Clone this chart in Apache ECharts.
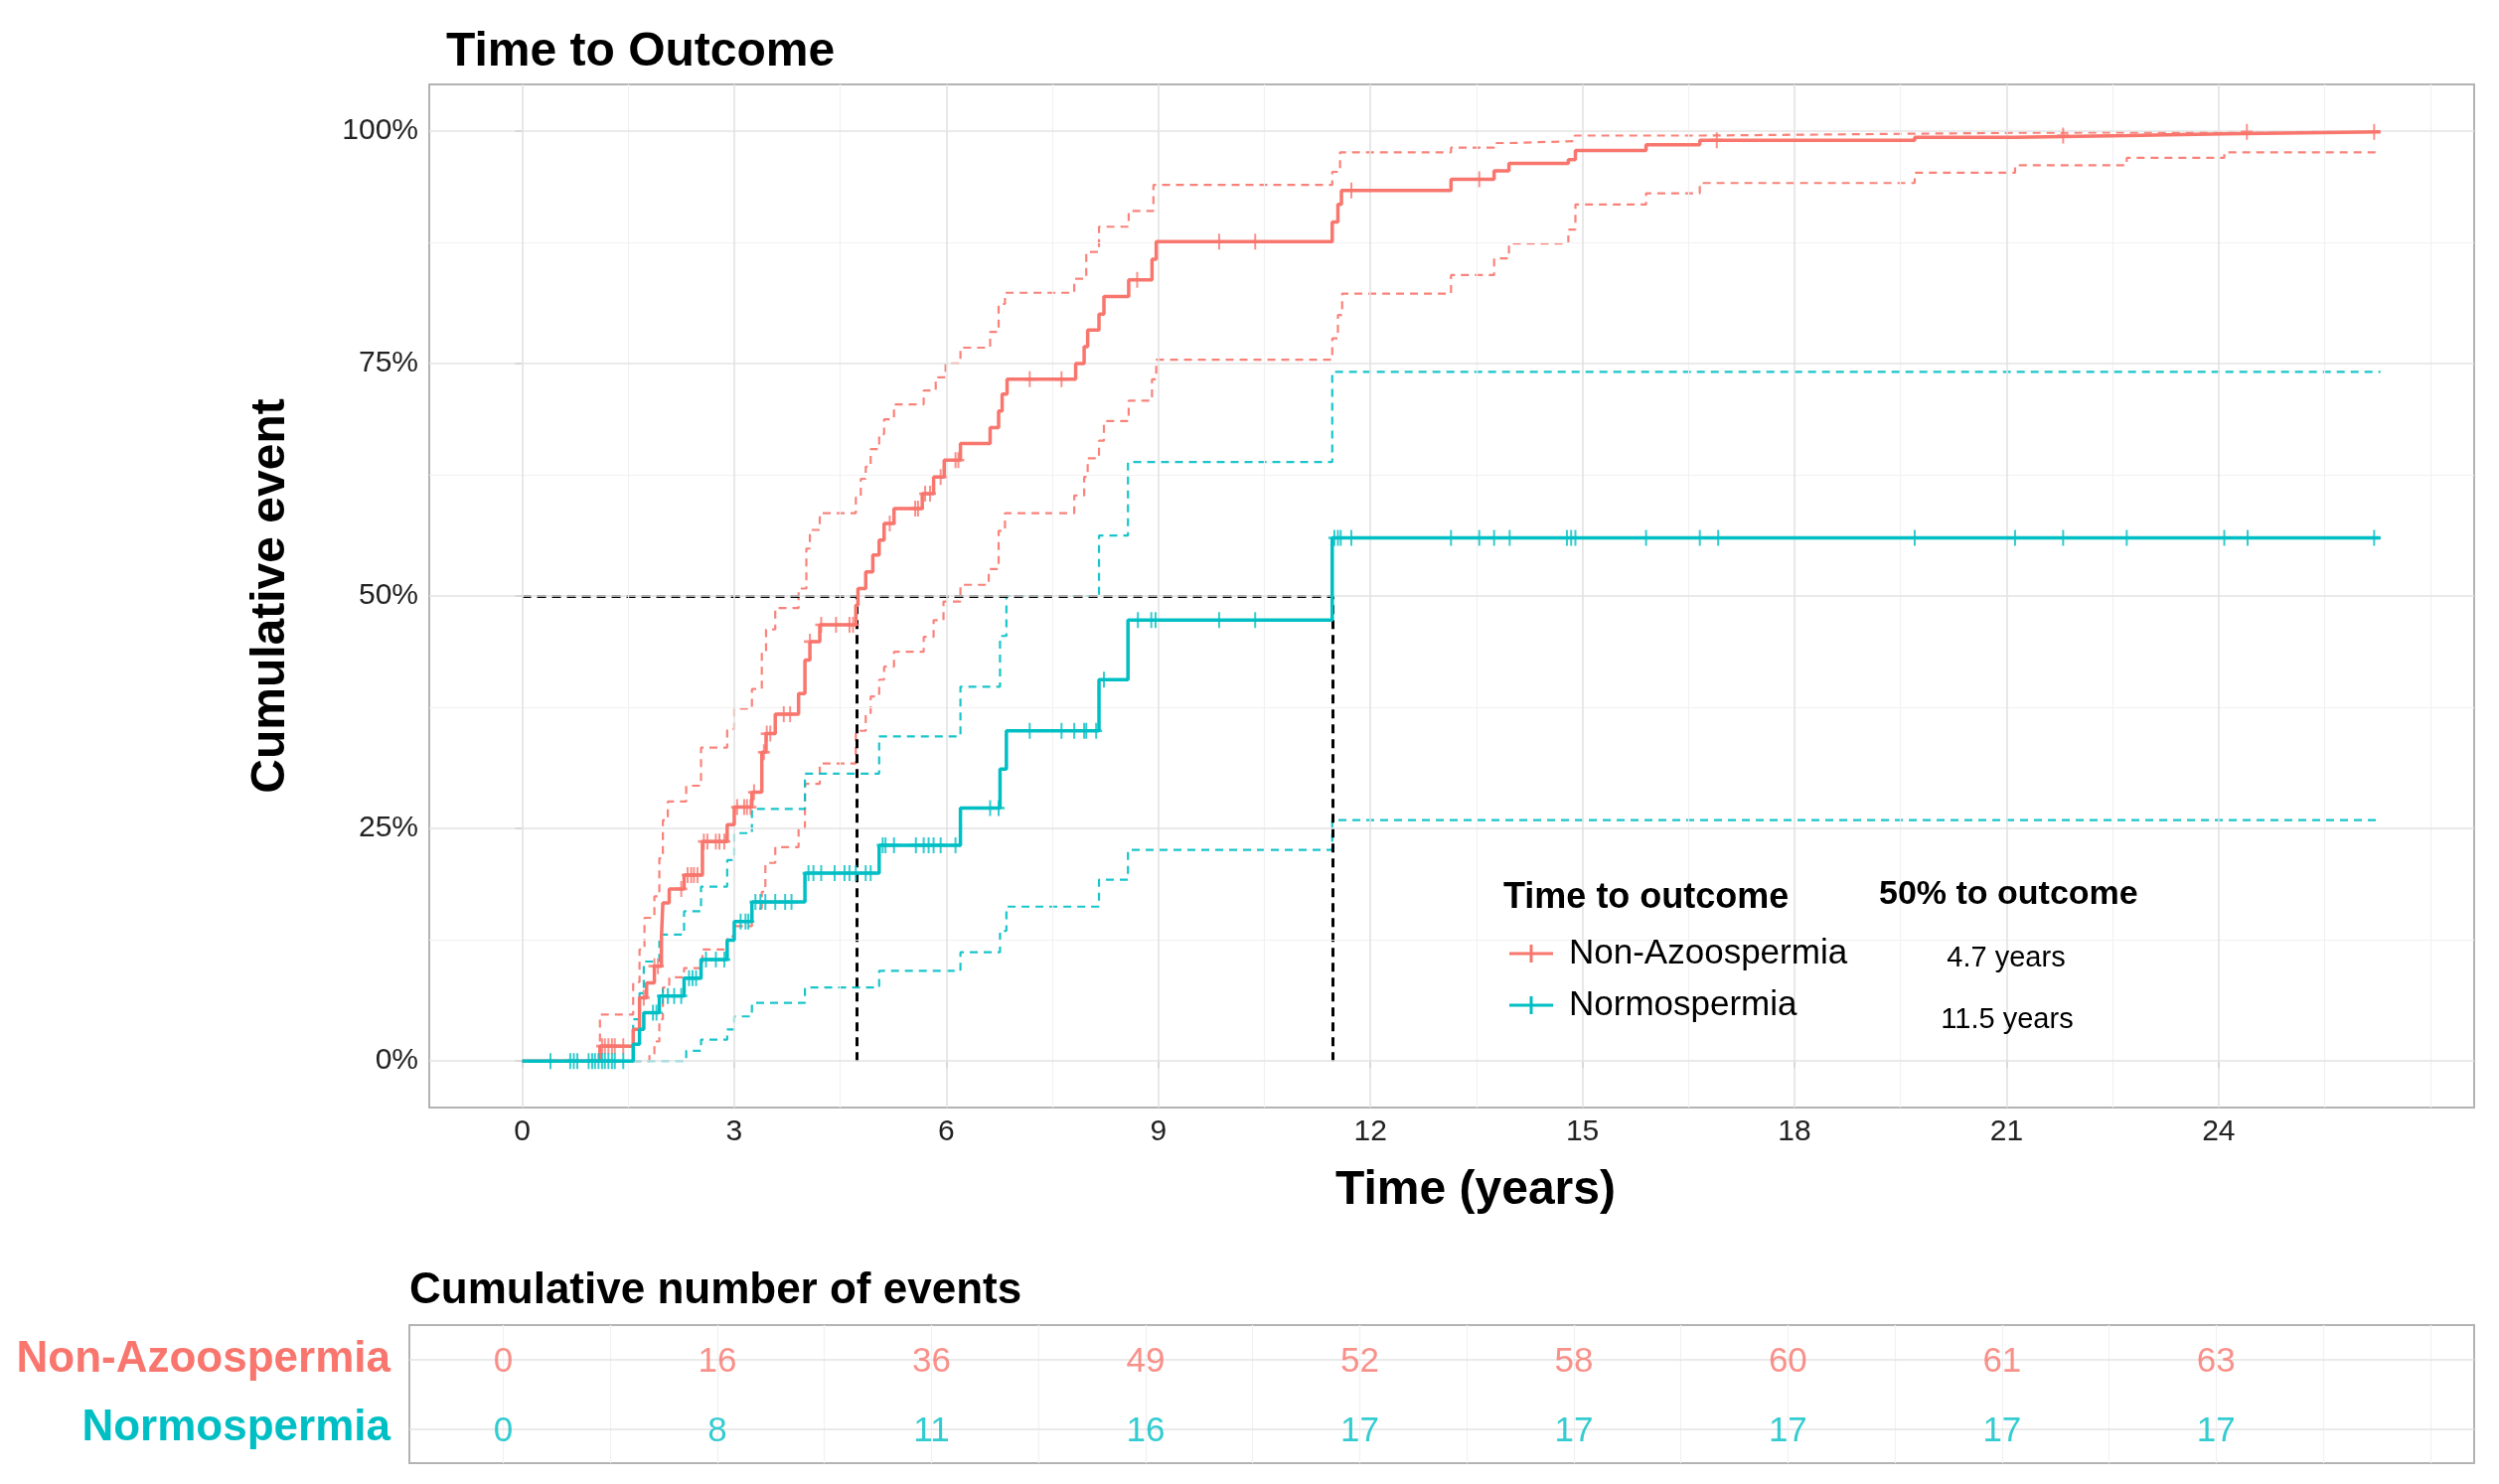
<!DOCTYPE html>
<html><head><meta charset="utf-8">
<script src="https://cdn.jsdelivr.net/npm/echarts@6/dist/echarts.min.js"></script>
<style>html,body{margin:0;padding:0;background:#fff}#c{width:2515px;height:1494px}</style>
</head><body><div id="c"></div>
<script>
const RED = '#F8766D', TEAL = '#00BFC4';
const groupNames = ['Non-Azoospermia', 'Normospermia'];

// Kaplan-Meier cumulative event curves (time in years, cumulative fraction)
const naTime = [0, 1.10, 1.57, 1.66, 1.76, 1.87, 1.97, 1.99, 2.08, 2.29, 2.55, 2.90, 3.00, 3.25, 3.39, 3.45, 3.58, 3.91, 4.00, 4.07, 4.21, 4.72, 4.75, 4.86, 4.96, 5.05, 5.12, 5.26, 5.66, 5.82, 5.97, 6.20, 6.62, 6.74, 6.79, 6.86, 7.83, 7.95, 8.00, 8.16, 8.23, 8.58, 8.91, 8.97, 11.46, 11.54, 11.59, 13.14, 13.75, 13.96, 14.80, 14.90, 15.90, 16.66, 19.70, 21.12, 22.70, 24.08, 26.29];
const naCum  = [0, 0.016, 0.034, 0.068, 0.084, 0.102, 0.134, 0.170, 0.185, 0.200, 0.236, 0.254, 0.273, 0.289, 0.332, 0.352, 0.373, 0.395, 0.431, 0.451, 0.469, 0.490, 0.508, 0.526, 0.544, 0.560, 0.578, 0.594, 0.610, 0.628, 0.646, 0.664, 0.681, 0.699, 0.717, 0.733, 0.750, 0.768, 0.786, 0.803, 0.822, 0.840, 0.862, 0.881, 0.902, 0.921, 0.936, 0.948, 0.957, 0.965, 0.969, 0.979, 0.985, 0.990, 0.993, 0.995, 0.997, 0.999, 0.999];

const naUpTime = [0, 1.10, 1.57, 1.66, 1.73, 1.87, 1.94, 1.99, 2.06, 2.32, 2.53, 2.90, 3.00, 3.25, 3.39, 3.45, 3.58, 3.91, 4.02, 4.07, 4.21, 4.72, 4.79, 4.86, 4.93, 5.05, 5.12, 5.26, 5.68, 5.85, 5.99, 6.20, 6.62, 6.74, 6.83, 7.81, 7.98, 8.16, 8.58, 8.93, 11.46, 11.57, 13.14, 13.75, 13.98, 14.89, 16.68, 19.70, 21.12, 26.29];
const naUp     = [0, 0.050, 0.085, 0.120, 0.154, 0.177, 0.218, 0.259, 0.279, 0.296, 0.337, 0.357, 0.379, 0.400, 0.440, 0.464, 0.487, 0.508, 0.551, 0.571, 0.589, 0.606, 0.626, 0.639, 0.658, 0.674, 0.690, 0.706, 0.721, 0.735, 0.750, 0.767, 0.784, 0.814, 0.826, 0.841, 0.870, 0.897, 0.914, 0.942, 0.956, 0.977, 0.982, 0.987, 0.989, 0.995, 0.997, 0.998, 0.999, 0.999];

const naLoTime = [0, 1.80, 1.87, 1.94, 1.99, 2.08, 2.29, 2.55, 2.90, 3.00, 3.25, 3.39, 3.44, 3.58, 3.91, 4.00, 4.21, 4.72, 4.86, 4.93, 5.05, 5.12, 5.26, 5.68, 5.82, 5.96, 6.20, 6.60, 6.74, 6.83, 7.81, 7.95, 8.00, 8.16, 8.23, 8.58, 8.91, 8.97, 11.46, 11.54, 11.60, 13.14, 13.75, 13.96, 14.80, 14.90, 15.90, 16.66, 19.70, 21.12, 22.70, 24.08, 26.29];
const naLo     = [0, 0.008, 0.021, 0.045, 0.079, 0.090, 0.100, 0.120, 0.134, 0.145, 0.164, 0.182, 0.213, 0.230, 0.250, 0.298, 0.320, 0.355, 0.374, 0.392, 0.410, 0.424, 0.440, 0.456, 0.474, 0.494, 0.512, 0.529, 0.570, 0.589, 0.608, 0.628, 0.648, 0.667, 0.688, 0.710, 0.733, 0.754, 0.777, 0.802, 0.825, 0.845, 0.863, 0.879, 0.894, 0.921, 0.933, 0.944, 0.955, 0.963, 0.971, 0.977, 0.977];

const nsTime = [0, 1.57, 1.66, 1.72, 1.94, 2.29, 2.53, 2.90, 3.00, 3.25, 4.00, 5.05, 6.20, 6.76, 6.85, 8.16, 8.57, 11.46, 26.29];
const nsCum  = [0, 0.018, 0.034, 0.052, 0.070, 0.089, 0.109, 0.130, 0.150, 0.171, 0.202, 0.232, 0.272, 0.314, 0.355, 0.410, 0.474, 0.5625, 0.5625];

const nsUpTime = [0, 1.57, 1.66, 1.72, 1.94, 2.29, 2.53, 2.90, 3.00, 3.25, 4.00, 5.05, 6.20, 6.76, 6.85, 8.16, 8.57, 11.46, 26.29];
const nsUp     = [0, 0.045, 0.073, 0.107, 0.136, 0.161, 0.1875, 0.216, 0.245, 0.271, 0.309, 0.349, 0.4025, 0.457, 0.500, 0.565, 0.644, 0.741, 0.741];

const nsLoTime = [0, 2.32, 2.53, 2.90, 3.00, 3.25, 4.00, 5.05, 6.20, 6.76, 6.85, 8.16, 8.57, 11.46, 26.29];
const nsLo     = [0, 0.011, 0.023, 0.034, 0.048, 0.0625, 0.079, 0.097, 0.117, 0.140, 0.166, 0.195, 0.227, 0.259, 0.259];

// censoring times
const naCensor = [1.13, 1.17, 1.22, 1.27, 1.31, 1.43, 1.72, 1.87, 1.92, 2.25, 2.34, 2.39, 2.43, 2.48, 2.57, 2.62, 2.74, 2.79, 2.86, 3.04, 3.14, 3.18, 3.23, 3.28, 3.42, 3.46, 3.51, 3.70, 3.79, 4.07, 4.23, 4.44, 4.63, 4.68, 5.20, 5.56, 5.60, 5.70, 5.77, 5.92, 6.13, 6.17, 7.18, 7.63, 8.70, 9.86, 10.37, 11.73, 13.54, 16.90, 21.80, 24.40, 26.20];
const nsCensor = [0.40, 0.68, 0.73, 0.78, 0.94, 0.99, 1.03, 1.08, 1.13, 1.17, 1.22, 1.27, 1.31, 1.43, 1.85, 1.90, 1.99, 2.06, 2.15, 2.25, 2.36, 2.41, 2.46, 2.60, 2.74, 2.86, 3.09, 3.16, 3.20, 3.30, 3.37, 3.44, 3.58, 3.72, 3.81, 4.05, 4.12, 4.23, 4.42, 4.56, 4.63, 4.72, 4.86, 4.93, 5.10, 5.14, 5.26, 5.57, 5.68, 5.75, 5.82, 5.92, 6.13, 6.62, 6.74, 7.18, 7.63, 7.81, 7.95, 7.98, 8.12, 8.23, 8.71, 8.90, 8.96, 9.86, 10.37, 11.49, 11.54, 11.58, 11.73, 13.14, 13.54, 13.75, 13.97, 14.78, 14.84, 14.90, 15.90, 16.66, 16.92, 19.70, 21.12, 21.80, 22.70, 24.08, 24.41, 26.20];

// median (50%) times
const medianTimes = [4.74, 11.46];
const medianLabels = ['4.7 years', '11.5 years'];
const medianLevel = 0.5;

// axes
const xTicks = [0, 3, 6, 9, 12, 15, 18, 21, 24];
const xMinorGrid = [1.5, 4.5, 7.5, 10.5, 13.5, 16.5, 19.5, 22.5, 25.5, 27];
const yTicks = [0, 0.25, 0.5, 0.75, 1];
const yMinorGrid = [0.125, 0.375, 0.625, 0.875];
const xMin = -1.315, xMax = 27.615, yMin = -0.05, yMax = 1.05;

// risk table
const tableTimes = [0, 3, 6, 9, 12, 15, 18, 21, 24];
const naEvents = [0, 16, 36, 49, 52, 58, 60, 61, 63];
const nsEvents = [0, 8, 11, 16, 17, 17, 17, 17, 17];

const FONT = '"Liberation Sans", Arial, Helvetica, sans-serif';
const pairs = (t, v) => t.map((x, i) => [x, v[i]]);
function stepAt(times, vals, t) {
  let v = vals[0];
  for (let i = 0; i < times.length; i++) { if (times[i] <= t) v = vals[i]; else break; }
  return v;
}
const PLUS = 'path://M5,0H7V5H12V7H7V12H5V7H0V5H5Z';
const LEG_ICON = 'path://M0,7.5H20.5V0H23.5V7.5H44V10.5H23.5V18H20.5V10.5H0Z';

function ciSeries(name, color, t, v) {
  return { name, type: 'line', step: 'end', data: pairs(t, v), symbol: 'none', z: 3,
    lineStyle: { color, width: 2.2, type: [8, 6], opacity: 0.9 }, itemStyle: { color }, silent: true };
}
function gridHelper(xi, yi, data, color, width) {
  return { type: 'line', xAxisIndex: xi, yAxisIndex: yi, data: [], symbol: 'none', silent: true, z: 1,
    markLine: { silent: true, symbol: ['none', 'none'], label: { show: false }, animation: false,
      lineStyle: { color, width, type: 'solid' }, data } };
}
function tableSeries(gi, color, counts) {
  return { name: 'table ' + groupNames[gi], type: 'scatter', xAxisIndex: 1, yAxisIndex: 1, symbolSize: 2, z: 5, silent: true,
    itemStyle: { color: 'rgba(255,255,255,0)' },
    label: { show: true, position: 'inside', color, fontSize: 35, fontFamily: FONT, offset: [0, 3], formatter: p => String(p.value[2]) },
    data: tableTimes.map((t, i) => [t, groupNames[gi], counts[i]]) };
}

const chart = echarts.init(document.getElementById('c'));
const option = {
  animation: false,
  backgroundColor: '#fff',
  textStyle: { fontFamily: FONT },
  title: [
    { text: 'Time to Outcome', left: 449, top: 29, padding: 0,
      textStyle: { fontFamily: FONT, fontSize: 48, fontWeight: 'bold', color: '#000' } },
    { text: 'Cumulative number of events', left: 412, top: 1278, padding: 0,
      textStyle: { fontFamily: FONT, fontSize: 44, fontWeight: 'bold', color: '#000' } }
  ],
  grid: [
    { left: 432, top: 85, width: 2058, height: 1030, show: true, borderColor: '#b3b3b3', borderWidth: 2, backgroundColor: 'transparent' },
    { left: 412, top: 1334, width: 2078, height: 139, show: true, borderColor: '#b3b3b3', borderWidth: 2, backgroundColor: 'transparent' }
  ],
  xAxis: [
    { type: 'value', gridIndex: 0, min: xMin, max: xMax,
      name: 'Time (years)', nameLocation: 'middle', nameGap: 60,
      nameTextStyle: { fontFamily: FONT, fontSize: 48, fontWeight: 'bold', color: '#000', padding: [0, 0, 0, 48] },
      axisLine: { show: false },
      axisTick: { show: true, length: 7, customValues: xTicks, lineStyle: { color: '#b3b3b3', width: 2 } },
      axisLabel: { customValues: xTicks, fontSize: 30, color: '#222', margin: 10, fontFamily: FONT },
      splitLine: { show: false } },
    { type: 'value', gridIndex: 1, min: xMin, max: xMax,
      axisLine: { show: false }, axisTick: { show: false }, axisLabel: { show: false }, splitLine: { show: false } }
  ],
  yAxis: [
    { type: 'value', gridIndex: 0, min: yMin, max: yMax,
      name: 'Cumulative event', nameLocation: 'middle', nameGap: 135, nameRotate: 90,
      nameTextStyle: { fontFamily: FONT, fontSize: 48, fontWeight: 'bold', color: '#000' },
      axisLine: { show: false },
      axisTick: { show: true, length: 7, customValues: yTicks, lineStyle: { color: '#b3b3b3', width: 2 } },
      axisLabel: { customValues: yTicks, fontSize: 30, color: '#222', margin: 11, fontFamily: FONT,
        formatter: v => Math.round(v * 100) + '%' },
      splitLine: { show: false } },
    { type: 'category', gridIndex: 1, boundaryGap: true,
      data: [{ value: groupNames[1], textStyle: { color: TEAL } }, { value: groupNames[0], textStyle: { color: RED } }],
      axisLine: { show: false }, axisTick: { show: false }, splitLine: { show: false },
      axisLabel: { fontSize: 44, fontWeight: 'bold', margin: 19, fontFamily: FONT } }
  ],
  legend: {
    orient: 'vertical', left: 1519, top: 940, padding: 0, itemGap: 12, itemWidth: 44, itemHeight: 20, z: 8,
    selectedMode: false,
    data: [{ name: groupNames[0], icon: LEG_ICON }, { name: groupNames[1], icon: LEG_ICON }],
    textStyle: { fontFamily: FONT, fontSize: 35, color: '#000', lineHeight: 40, padding: [0, 0, 0, 11] }
  },
  graphic: [
    { type: 'rect', z: 3, shape: { x: 1498, y: 873, width: 670, height: 178 }, style: { fill: '#fff' }, silent: true },
    { type: 'text', z: 10, left: 1513, top: 886, style: { text: 'Time to outcome', font: 'bold 36px ' + FONT, fill: '#000' } },
    { type: 'text', z: 10, left: 1891, top: 884, style: { text: '50% to outcome', font: 'bold 34px ' + FONT, fill: '#000' } },
    { type: 'text', z: 10, x: 2019, y: 965, style: { text: medianLabels[0], font: '29px ' + FONT, fill: '#000', textAlign: 'center', textVerticalAlign: 'middle' } },
    { type: 'text', z: 10, x: 2020, y: 1027, style: { text: medianLabels[1], font: '29px ' + FONT, fill: '#000', textAlign: 'center', textVerticalAlign: 'middle' } }
  ],
  series: [
    gridHelper(0, 0, xMinorGrid.map(v => ({ xAxis: v })).concat(yMinorGrid.map(v => ({ yAxis: v }))), '#f1f1f1', 1.2),
    gridHelper(0, 0, xTicks.map(v => ({ xAxis: v })).concat(yTicks.map(v => ({ yAxis: v }))), '#e3e3e3', 1.6),
    gridHelper(1, 1, xTicks.concat(xMinorGrid).map(v => ({ xAxis: v })), '#f1f1f1', 1.2),
    gridHelper(1, 1, [{ yAxis: groupNames[0] }, { yAxis: groupNames[1] }], '#e3e3e3', 1.6),
    ciSeries('Non-Azoospermia upper', RED, naUpTime, naUp),
    ciSeries('Non-Azoospermia lower', RED, naLoTime, naLo),
    ciSeries('Normospermia upper', TEAL, nsUpTime, nsUp),
    ciSeries('Normospermia lower', TEAL, nsLoTime, nsLo),
    { type: 'lines', coordinateSystem: 'cartesian2d', z: 4, silent: true,
      lineStyle: { color: '#000', width: 3, type: [9, 6], opacity: 1 },
      data: [{ coords: [[0, medianLevel], [medianTimes[1], medianLevel]] }]
        .concat(medianTimes.map(t => ({ coords: [[t, 0], [t, medianLevel]] }))) },
    { name: groupNames[0], type: 'line', step: 'end', data: pairs(naTime, naCum), symbol: 'none', z: 5,
      lineStyle: { color: RED, width: 3.5 }, itemStyle: { color: RED } },
    { name: groupNames[1], type: 'line', step: 'end', data: pairs(nsTime, nsCum), symbol: 'none', z: 5,
      lineStyle: { color: TEAL, width: 3.5 }, itemStyle: { color: TEAL } },
    { name: 'Non-Azoospermia censored', type: 'scatter', symbol: PLUS, symbolSize: [12, 16], z: 6, silent: true,
      itemStyle: { color: RED }, data: naCensor.map(t => [t, stepAt(naTime, naCum, t)]) },
    { name: 'Normospermia censored', type: 'scatter', symbol: PLUS, symbolSize: [12, 16], z: 6, silent: true,
      itemStyle: { color: TEAL }, data: nsCensor.map(t => [t, stepAt(nsTime, nsCum, t)]) },
    tableSeries(0, RED, naEvents),
    tableSeries(1, TEAL, nsEvents)
  ]
};
chart.setOption(option);
</script></body></html>
